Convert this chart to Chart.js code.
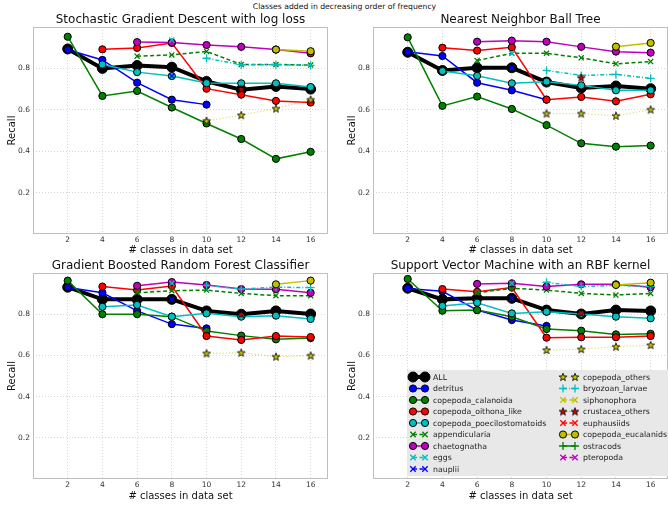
<!DOCTYPE html>
<html>
<head>
<meta charset="utf-8">
<script src="https://cdn.jsdelivr.net/npm/chart.js@4.4.1/dist/chart.umd.min.js"></script>
<style>
  html, body { margin: 0; padding: 0; background: #fff; }
  body { width: 668px; height: 506px; overflow: hidden; position: relative; font-family: "DejaVu Sans", sans-serif; }
  canvas { position: absolute; }
  #suptitle { position: absolute; left: 0; top: 2px; width: 689px; text-align: center; font-size: 7.7px; line-height: 10px; color: #111; }
</style>
</head>
<body>
<div id="suptitle">Classes added in decreasing order of frequency</div>
<canvas id="c1" width="334" height="256" style="left:0;top:0"></canvas>
<canvas id="c2" width="340" height="256" style="left:334px;top:0"></canvas>
<canvas id="c3" width="334" height="250" style="left:0;top:256px"></canvas>
<canvas id="c4" width="340" height="250" style="left:334px;top:256px"></canvas>
<script>
const xClasses = [2, 4, 6, 8, 10, 12, 14, 16];
const yTicks = [0.2, 0.4, 0.6, 0.8];

const seriesNames = [
  'ALL', 'detritus', 'copepoda_calanoida', 'copepoda_oithona_like',
  'copepoda_poecilostomatoids', 'appendicularia', 'chaetognatha', 'eggs',
  'nauplii', 'copepoda_others', 'bryozoan_larvae', 'siphonophora',
  'crustacea_others', 'euphausiids', 'copepoda_eucalanids', 'ostracods', 'pteropoda'
];

const panelTitles = [
  'Stochastic Gradient Descent with log loss',
  'Nearest Neighbor Ball Tree',
  'Gradient Boosted Random Forest Classifier',
  'Support Vector Machine with an RBF kernel'
];

// recall per class, rows in seriesNames order, columns follow xClasses
const sgdRecall = [
  [0.894, 0.800, 0.814, 0.806, 0.737, 0.697, 0.713, 0.700],
  [0.890, 0.841, 0.731, 0.649, 0.625, null, null, null],
  [0.953, 0.667, 0.691, 0.611, 0.534, 0.459, 0.363, 0.397],
  [null, 0.892, 0.899, 0.923, 0.702, 0.673, 0.643, 0.635],
  [null, 0.819, 0.782, 0.763, 0.729, 0.728, 0.728, 0.710],
  [null, null, 0.859, 0.865, 0.882, 0.819, 0.819, 0.816],
  [null, null, 0.927, 0.925, 0.913, 0.904, 0.891, 0.873],
  [null, null, null, 0.937, null, null, null, null],
  [null, null, null, 0.763, null, null, null, null],
  [null, null, null, null, 0.547, 0.574, 0.606, 0.649],
  [null, null, null, null, 0.849, 0.818, 0.818, 0.815],
  [null, null, null, null, null, null, null, null],
  [null, null, null, null, null, 0.700, null, null],
  [null, null, null, null, null, null, null, null],
  [null, null, null, null, null, null, 0.891, 0.883],
  [null, null, null, null, null, null, null, null],
  [null, null, null, null, null, null, null, null]
];

const nnRecall = [
  [0.878, 0.790, 0.803, 0.803, 0.734, 0.705, 0.715, 0.702],
  [0.880, 0.860, 0.731, 0.694, 0.649, null, null, null],
  [0.950, 0.619, 0.664, 0.604, 0.526, 0.438, 0.422, 0.427],
  [null, 0.900, 0.886, 0.902, 0.649, 0.662, 0.641, 0.675],
  [null, 0.787, 0.764, 0.728, 0.736, 0.718, 0.694, 0.694],
  [null, null, 0.838, 0.873, 0.873, 0.851, 0.822, 0.833],
  [null, null, 0.929, 0.934, 0.929, 0.904, 0.881, 0.876],
  [null, null, null, 0.873, null, null, null, null],
  [null, null, null, 0.803, null, null, null, null],
  [null, null, null, null, 0.582, 0.582, 0.571, 0.601],
  [null, null, null, null, 0.790, 0.766, 0.771, 0.752],
  [null, null, null, null, null, null, null, null],
  [null, null, null, null, null, 0.755, null, null],
  [null, null, null, null, null, null, null, null],
  [null, null, null, null, null, null, 0.905, 0.923],
  [null, null, null, null, null, null, null, null],
  [null, null, null, null, null, null, null, null]
];

const gbrfRecall = [
  [0.931, 0.872, 0.872, 0.872, 0.816, 0.800, 0.816, 0.801],
  [0.930, 0.904, 0.816, 0.752, 0.731, null, null, null],
  [0.963, 0.800, 0.800, 0.788, 0.718, 0.696, 0.678, 0.684],
  [null, 0.934, 0.917, 0.937, 0.694, 0.675, 0.694, 0.689],
  [null, 0.836, 0.845, 0.788, 0.804, 0.788, 0.793, 0.777],
  [null, null, 0.904, 0.914, 0.917, 0.901, 0.890, 0.890],
  [null, null, 0.938, 0.956, 0.942, 0.922, 0.921, 0.904],
  [null, null, null, 0.950, null, null, null, null],
  [null, null, null, 0.872, null, null, null, null],
  [null, null, null, null, 0.610, 0.613, 0.594, 0.599],
  [null, null, null, null, 0.940, 0.922, 0.931, 0.929],
  [null, null, null, null, null, null, null, null],
  [null, null, null, null, null, 0.800, null, null],
  [null, null, null, null, null, null, null, null],
  [null, null, null, null, null, null, 0.945, 0.963],
  [null, null, null, null, null, null, null, null],
  [null, null, null, null, null, null, null, null]
];

const svmRecall = [
  [0.926, 0.872, 0.877, 0.877, 0.820, 0.801, 0.820, 0.816],
  [0.925, 0.911, 0.820, 0.772, 0.743, null, null, null],
  [0.971, 0.817, 0.820, 0.788, 0.728, 0.720, 0.702, 0.705],
  [null, 0.922, 0.909, 0.929, 0.686, 0.688, 0.688, 0.694],
  [null, 0.840, 0.856, 0.804, 0.812, 0.801, 0.788, 0.780],
  [null, null, 0.904, 0.926, 0.917, 0.901, 0.893, 0.901],
  [null, null, 0.947, 0.950, 0.934, 0.945, 0.945, 0.931],
  [null, null, null, 0.950, null, null, null, null],
  [null, null, null, 0.877, null, null, null, null],
  [null, null, null, null, 0.626, 0.630, 0.642, 0.650],
  [null, null, null, null, 0.955, 0.934, 0.940, 0.935],
  [null, null, null, null, null, null, null, null],
  [null, null, null, null, null, 0.805, null, null],
  [null, null, null, null, null, null, null, null],
  [null, null, null, null, null, null, 0.942, 0.953],
  [null, null, null, null, null, null, null, null],
  [null, null, null, null, null, null, null, null]
];

Chart.defaults.font.family = "'DejaVu Sans', sans-serif";

function makeStar(fill) {
  const c = document.createElement('canvas');
  c.width = 10; c.height = 10;
  const g = c.getContext('2d');
  g.beginPath();
  for (let k = 0; k < 10; k++) {
    const rr = k % 2 ? 1.7 : 4.1;
    const a = -Math.PI / 2 + k * Math.PI / 5;
    g.lineTo(5 + rr * Math.cos(a), 5.3 + rr * Math.sin(a));
  }
  g.closePath();
  g.fillStyle = fill; g.fill();
  g.lineWidth = 0.8; g.strokeStyle = '#000'; g.stroke();
  return c;
}

const DASH = [4, 2.5], DOT = [1.2, 2], DASHDOT = [4, 2, 1, 2];
// style per series, same order as seriesNames
const styles = [
  { line: '#000000', w: 4, dash: [], marker: 'circle', fill: '#000000', edge: '#000', r: 5 },
  { line: '#0000ff', w: 1.5, dash: [], marker: 'circle', fill: '#0000ff', edge: '#000', r: 3.6 },
  { line: '#008000', w: 1.5, dash: [], marker: 'circle', fill: '#008000', edge: '#000', r: 3.6 },
  { line: '#ff0000', w: 1.5, dash: [], marker: 'circle', fill: '#ff0000', edge: '#000', r: 3.6 },
  { line: '#00bfbf', w: 1.5, dash: [], marker: 'circle', fill: '#00bfbf', edge: '#000', r: 3.6 },
  { line: '#008000', w: 1.5, dash: DASH, marker: 'crossRot', fill: '#008000', edge: '#008000', r: 3.6 },
  { line: '#bf00bf', w: 1.5, dash: [], marker: 'circle', fill: '#bf00bf', edge: '#000', r: 3.6 },
  { line: '#00bfbf', w: 1.5, dash: DASH, marker: 'crossRot', fill: '#00bfbf', edge: '#00bfbf', r: 3.6 },
  { line: '#0000ff', w: 1.5, dash: DASH, marker: 'crossRot', fill: '#0000ff', edge: '#0000ff', r: 3.6 },
  { line: 'rgba(191,191,0,0.55)', w: 1.2, dash: DOT, marker: makeStar('#bfbf00'), fill: '#bfbf00', edge: '#000', r: 4 },
  { line: '#00bfbf', w: 1.5, dash: DASHDOT, marker: 'cross', fill: '#00bfbf', edge: '#00bfbf', r: 4 },
  { line: '#bfbf00', w: 1.5, dash: DASH, marker: 'crossRot', fill: '#bfbf00', edge: '#bfbf00', r: 3.6 },
  { line: 'rgba(200,0,0,0.55)', w: 1.2, dash: DOT, marker: makeStar('#cc0000'), fill: '#cc0000', edge: '#000', r: 4 },
  { line: '#ff0000', w: 1.5, dash: DASH, marker: 'crossRot', fill: '#ff0000', edge: '#ff0000', r: 3.6 },
  { line: '#bfbf00', w: 1.5, dash: [], marker: 'circle', fill: '#bfbf00', edge: '#000', r: 3.6 },
  { line: '#008000', w: 1.5, dash: [], marker: 'cross', fill: '#008000', edge: '#008000', r: 4 },
  { line: '#bf00bf', w: 1.5, dash: DASH, marker: 'crossRot', fill: '#bf00bf', edge: '#bf00bf', r: 3.6 }
];

function makeDatasets(rows) {
  return rows.map((vals, i) => {
    const s = styles[i];
    const crossy = s.marker === 'cross' || s.marker === 'crossRot';
    return {
      label: seriesNames[i],
      data: xClasses.map((x, j) => ({ x: x, y: vals[j] })),
      borderColor: s.line,
      borderWidth: s.w,
      borderDash: s.dash,
      pointStyle: s.marker,
      pointRadius: s.r,
      pointBackgroundColor: s.fill,
      pointBorderColor: s.edge,
      pointBorderWidth: crossy ? 1.3 : 1,
      order: rows.length - i,
      spanGaps: false,
      tension: 0,
      fill: false
    };
  });
}

const frame = {
  id: 'frame',
  beforeDatasetsDraw(chart) {
    const a = chart.chartArea, g = chart.ctx;
    g.save();
    g.strokeStyle = '#bfbfbf';
    g.lineWidth = 1;
    g.strokeRect(Math.round(a.left) + 0.5, Math.round(a.top) + 0.5, Math.round(a.width) - 1, Math.round(a.height) - 1);
    g.restore();
  }
};

// matplotlib-style title, centred over the plot box rather than the canvas
const panelTitle = {
  id: 'panelTitle',
  afterDraw(chart, args, opts) {
    const a = chart.chartArea, g = chart.ctx;
    g.save();
    g.font = "12px 'DejaVu Sans'";
    g.fillStyle = '#111';
    g.textAlign = 'center';
    g.textBaseline = 'middle';
    g.fillText(opts.text, (a.left + a.right) / 2, opts.y);
    g.restore();
  }
};

function drawMarker(g, s, x, y) {
  if (typeof s.marker !== 'string') {
    g.drawImage(s.marker, x - s.marker.width / 2, y - s.marker.height / 2);
    return;
  }
  g.beginPath();
  if (s.marker === 'circle') {
    g.arc(x, y, s.r, 0, Math.PI * 2);
    g.fillStyle = s.fill; g.fill();
    g.lineWidth = 1; g.strokeStyle = s.edge; g.stroke();
  } else {
    const r = s.r;
    if (s.marker === 'cross') {
      g.moveTo(x - r, y); g.lineTo(x + r, y); g.moveTo(x, y - r); g.lineTo(x, y + r);
    } else {
      const d = r * 0.75;
      g.moveTo(x - d, y - d); g.lineTo(x + d, y + d); g.moveTo(x - d, y + d); g.lineTo(x + d, y - d);
    }
    g.lineWidth = 1.3; g.strokeStyle = s.edge; g.stroke();
  }
}

// legend drawn inside the SVM panel (page coords shifted by canvas offset)
const insideLegend = {
  id: 'insideLegend',
  afterDraw(chart) {
    const g = chart.ctx, ox = 334, oy = 256;
    g.save();
    g.fillStyle = '#e8e8e8';
    g.fillRect(407 - ox, 370 - oy, 300, 106);
    g.font = "7.8px 'DejaVu Sans'";
    g.textBaseline = 'middle';
    seriesNames.forEach((name, i) => {
      const col = i < 9 ? 0 : 1, row = i < 9 ? i : i - 9;
      const x1 = (col ? 563 : 413) - ox, x2 = x1 + 12;
      const y = 377 + row * 11.5 - oy;
      const s = styles[i];
      g.beginPath();
      g.setLineDash(s.dash);
      g.lineWidth = s.w;
      g.strokeStyle = s.line;
      g.moveTo(x1, y); g.lineTo(x2, y); g.stroke();
      g.setLineDash([]);
      drawMarker(g, s, x1, y);
      drawMarker(g, s, x2, y);
      g.fillStyle = '#222';
      g.fillText(name, x2 + 8, y + 0.5);
    });
    g.restore();
  }
};

function makeChart(id, rows, title, o, extra) {
  return new Chart(document.getElementById(id), {
    type: 'line',
    data: { datasets: makeDatasets(rows) },
    options: {
      responsive: false,
      animation: false,
      devicePixelRatio: 1,
      layout: { padding: { top: o.top, right: 1, left: 0, bottom: 0 } },
      plugins: {
        legend: { display: false },
        tooltip: { enabled: false },
        title: { display: false },
        panelTitle: { text: title, y: o.ty }
      },
      scales: {
        x: {
          type: 'linear', min: 0, max: 17,
          afterBuildTicks: s => { s.ticks = xClasses.map(v => ({ value: v })); },
          afterFit: s => { s.height = o.xh; },
          ticks: { font: { size: 7.5 }, color: '#333', padding: 2, maxRotation: 0, autoSkip: false, callback: v => String(v) },
          grid: { color: '#cccccc', lineWidth: 0.8, drawTicks: false },
          border: { display: false, dash: [1, 2] },
          title: { display: true, text: '# classes in data set', color: '#111', font: { size: 10 }, padding: { top: 0, bottom: o.xtb } }
        },
        y: {
          min: 0, max: 1,
          afterBuildTicks: s => { s.ticks = yTicks.map(v => ({ value: v })); },
          afterFit: s => { s.width = o.yw; },
          ticks: { font: { size: 7.5 }, color: '#333', padding: 3, callback: v => v.toFixed(1) },
          grid: { color: '#cccccc', lineWidth: 0.8, drawTicks: false },
          border: { display: false, dash: [1, 2] },
          title: { display: true, text: 'Recall', color: '#111', font: { size: 10 }, padding: { top: o.ytp, bottom: 0 } }
        }
      }
    },
    plugins: [frame, panelTitle].concat(extra || [])
  });
}

const topPanel = { top: 27, ty: 20, xh: 22, xtb: 0 };
const bottomPanel = { top: 17, ty: 9.7, xh: 27, xtb: 3.3 };

makeChart('c1', sgdRecall, panelTitles[0], Object.assign({ yw: 33, ytp: 6 }, topPanel));
makeChart('c2', nnRecall, panelTitles[1], Object.assign({ yw: 39, ytp: 12 }, topPanel));
makeChart('c3', gbrfRecall, panelTitles[2], Object.assign({ yw: 33, ytp: 6 }, bottomPanel));
makeChart('c4', svmRecall, panelTitles[3], Object.assign({ yw: 39, ytp: 12 }, bottomPanel), [insideLegend]);
</script>
</body>
</html>
